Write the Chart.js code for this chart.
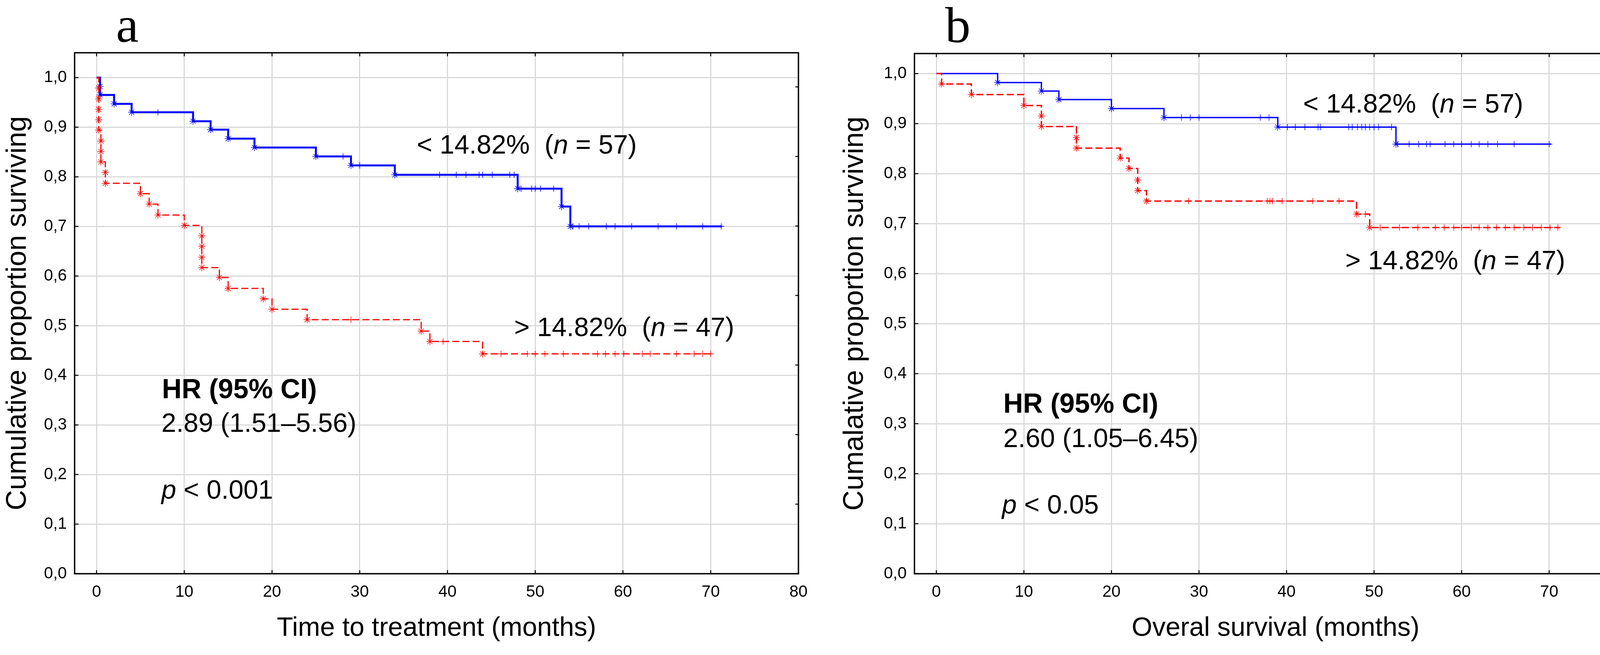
<!DOCTYPE html>
<html>
<head>
<meta charset="utf-8">
<script src="https://cdn.jsdelivr.net/npm/chart.js@4.4.1/dist/chart.umd.min.js"></script>
<style>
  html, body { margin: 0; padding: 0; background: #fff; }
  #wrap { position: relative; width: 4246px; height: 1676px; overflow: hidden; background: #fff; }
  canvas { position: absolute; top: 0; }
</style>
</head>
<body>
<div id="wrap">
  <canvas id="chartA" width="2150" height="1676" style="left:0"></canvas>
  <canvas id="chartB" width="2096" height="1676" style="left:2150px"></canvas>
</div>
<script>
// ---- values ----
const xTicks = [0, 10, 20, 30, 40, 50, 60, 70, 80];
const yTicks = [0, 0.1, 0.2, 0.3, 0.4, 0.5, 0.6, 0.7, 0.8, 0.9, 1.0];

// panel a : time to treatment, < 14.82% (n = 57)
const aLowStepT = [0, 0.4, 2, 4, 11, 13, 15, 18, 25, 29, 34, 48, 53, 54, 71.3];
const aLowStepS = [1.0, 0.965, 0.947, 0.930, 0.912, 0.895, 0.877, 0.859, 0.841, 0.823, 0.804, 0.776, 0.740, 0.700, 0.700];
const aLowEventT = [0.4, 0.4, 2, 4, 11, 13, 15, 18, 25, 29, 34, 48, 53, 54];
const aLowEventS = [0.982, 0.965, 0.947, 0.930, 0.912, 0.895, 0.877, 0.859, 0.841, 0.823, 0.804, 0.776, 0.740, 0.700];
const aLowCensT = [7, 28.1, 30, 39.1, 41, 42.1, 43.6, 44, 45.1, 47.1, 47.6, 48.4, 49.6, 50, 50.6, 52.1, 54.3, 55, 56.1, 58.1, 59.1, 61, 64, 66.1, 69.1, 71.2];

// panel a : > 14.82% (n = 47)
const aHighStepT = [0, 0.25, 0.5, 1.0, 5, 6, 7, 10, 12, 14, 15, 19, 20, 24, 37, 38, 44, 70.2];
const aHighStepS = [1.0, 0.894, 0.830, 0.787, 0.766, 0.745, 0.723, 0.702, 0.617, 0.597, 0.575, 0.554, 0.533, 0.512, 0.489, 0.468, 0.443, 0.443];
const aHighEventT = [0.25, 0.25, 0.25, 0.25, 0.25, 0.5, 0.5, 0.5, 1.0, 1.0, 5, 6, 7, 10, 12, 12, 12, 12, 14, 15, 19, 20, 24, 37, 38, 44];
const aHighEventS = [0.979, 0.957, 0.936, 0.915, 0.894, 0.872, 0.851, 0.830, 0.809, 0.787, 0.766, 0.745, 0.723, 0.702, 0.681, 0.660, 0.638, 0.617, 0.597, 0.575, 0.554, 0.533, 0.512, 0.489, 0.468, 0.443];
const aHighCensT = [29, 39.5, 46.1, 49.1, 50, 51.1, 53.2, 57.1, 58, 59.1, 60.1, 62.2, 63.1, 66.1, 68.1, 69.1, 70];

// panel b : overall survival, < 14.82% (n = 57)
const bLowStepT = [0, 7, 12, 14, 20, 26, 39, 52.5, 70.2];
const bLowStepS = [1.0, 0.982, 0.965, 0.948, 0.930, 0.912, 0.893, 0.859, 0.859];
const bLowEventT = [7, 12, 14, 20, 26, 39, 52.5];
const bLowEventS = [0.982, 0.965, 0.948, 0.930, 0.912, 0.893, 0.859];
const bLowCensT = [28, 29, 30, 37, 38, 40.1, 41, 42.1, 43.6, 43.9, 47.1, 47.5, 48.1, 48.6, 49, 49.5, 50, 50.5, 52, 52.7, 54, 55.1, 56, 56.4, 58.1, 59.1, 60, 61.1, 62, 63, 64.1, 66, 70];

// panel b : > 14.82% (n = 47)
const bHighStepT = [0, 0.6, 4, 10, 12, 16, 21, 22, 23, 24, 48, 49.5, 71.2];
const bHighStepS = [1.0, 0.979, 0.958, 0.936, 0.894, 0.851, 0.831, 0.810, 0.766, 0.745, 0.719, 0.692, 0.692];
const bHighEventT = [0.6, 4, 10, 12, 12, 16, 16, 21, 22, 23, 23, 24, 48, 49.5];
const bHighEventS = [0.979, 0.958, 0.936, 0.915, 0.894, 0.872, 0.851, 0.831, 0.810, 0.787, 0.766, 0.745, 0.719, 0.692];
const bHighCensT = [28.8, 37.8, 38.1, 38.4, 39.5, 43, 46, 49, 50.7, 52.9, 55, 57, 58, 59.1, 60, 61.1, 62, 63, 64, 65, 66, 67.1, 68.1, 69.1, 70.1, 71];

const FONT = "'Liberation Sans', Arial, sans-serif";
const SERIF = "'Liberation Serif', 'Times New Roman', serif";
const BLUE = "#0000ff";
const RED = "#ff0000";

// survival level of a step curve at time t (for placing censor marks on it)
function levelAt(ts, ss, t) {
    let s = ss[0];
    for (let i = 0; i < ts.length; i++) {
        if (ts[i] <= t) s = ss[i];
    }
    return s;
}

function pts(ts, ss) {
    return ts.map((t, i) => ({ x: t, y: ss[i] }));
}

// line + event stars + censor crosses for one group
function groupSets(stepT, stepS, evT, evS, censT, color, width, dash) {
    return [
        {
            data: pts(stepT, stepS),
            borderColor: color, borderWidth: width, borderDash: dash,
            stepped: true, pointRadius: 0, fill: false
        },
        {
            data: pts(evT, evS),
            showLine: false, pointStyle: "star", pointRadius: 9,
            borderColor: color, backgroundColor: color, pointBorderWidth: 1.5
        },
        {
            data: censT.map(t => ({ x: t, y: levelAt(stepT, stepS, t) })),
            showLine: false, pointStyle: "cross", pointRadius: 8,
            borderColor: color, backgroundColor: color, pointBorderWidth: 1.5
        }
    ];
}

// frame around plot + inward tick marks
const framePlugin = {
    id: "frame",
    afterDatasetsDraw(chart, args, o) {
        const { ctx, chartArea: ca, scales } = chart;
        ctx.save();
        ctx.strokeStyle = "#000";
        ctx.lineWidth = 2.5;
        ctx.beginPath();
        xTicks.forEach(v => {
            const px = scales.x.getPixelForValue(v);
            ctx.moveTo(px, ca.bottom); ctx.lineTo(px, ca.bottom - 9);
            ctx.moveTo(px, ca.top); ctx.lineTo(px, ca.top + 9);
        });
        yTicks.forEach(v => {
            const py = scales.y.getPixelForValue(v);
            ctx.moveTo(ca.left, py); ctx.lineTo(ca.left + 10, py);
        });
        o.rightTicks.forEach(v => {
            const py = scales.y2.getPixelForValue(v);
            ctx.moveTo(ca.right, py); ctx.lineTo(ca.right - 8, py);
        });
        ctx.stroke();
        ctx.lineWidth = 3.5;
        ctx.strokeRect(ca.left, ca.top, ca.right - ca.left, ca.bottom - ca.top);
        ctx.restore();
    }
};

// text notes placed in data coordinates
const notesPlugin = {
    id: "notes",
    afterDraw(chart, args, o) {
        const { ctx, scales: { x, y } } = chart;
        ctx.save();
        ctx.fillStyle = "#000";
        ctx.textBaseline = "alphabetic";
        o.items.forEach(item => {
            let px = x.getPixelForValue(item.x);
            const py = y.getPixelForValue(item.y);
            ctx.textAlign = item.align || "left";
            item.parts.forEach(([txt, font]) => {
                ctx.font = font;
                ctx.fillText(txt, px, py);
                px += ctx.measureText(txt).width;
            });
        });
        ctx.restore();
    }
};

const NORM = "68px " + FONT;
const ITAL = "italic 68px " + FONT;
const BOLD = "bold 70px " + FONT;
const LETTER = "130px " + SERIF;

function makePanel(id, p) {
    const grid = { color: "#d9d9d9", lineWidth: 3, drawTicks: false };
    new Chart(document.getElementById(id), {
        type: "line",
        data: {
            datasets: [
                ...groupSets(p.high.stepT, p.high.stepS, p.high.evT, p.high.evS, p.high.censT, RED, p.redWidth, [18, 8]),
                ...groupSets(p.low.stepT, p.low.stepS, p.low.evT, p.low.evS, p.low.censT, BLUE, p.blueWidth, [])
            ]
        },
        options: {
            responsive: false,
            devicePixelRatio: 1,
            animation: false,
            layout: { padding: { left: 0, top: p.top, right: p.right, bottom: 0 } },
            scales: {
                x: {
                    type: "linear", min: -2.5, max: 80, bounds: "data",
                    afterBuildTicks: s => { s.ticks = xTicks.map(v => ({ value: v })); },
                    afterFit: s => { s.height = 208; },
                    grid: grid,
                    border: { display: false },
                    ticks: {
                        autoSkip: false, maxRotation: 0, padding: 22, color: "#000",
                        font: { family: FONT, size: 42 },
                        callback: v => String(v)
                    },
                    title: {
                        display: true, text: p.xTitle, color: "#000",
                        font: { family: FONT, size: 68, lineHeight: 1 },
                        padding: { top: 0, bottom: 34 }
                    }
                },
                y: {
                    type: "linear", min: 0, max: p.yMax, bounds: "data",
                    afterBuildTicks: s => { s.ticks = yTicks.map(v => ({ value: v })); },
                    afterFit: s => { s.width = 191; },
                    grid: grid,
                    border: { display: false },
                    ticks: {
                        autoSkip: false, padding: 20, color: "#000",
                        font: { family: FONT, size: 42 },
                        callback: v => v.toFixed(1).replace(".", ",")
                    },
                    title: {
                        display: true, text: p.yTitle, color: "#000",
                        font: { family: FONT, size: 72, lineHeight: 1 },
                        padding: { top: p.yTitlePad, bottom: 0 }
                    }
                },
                y2: { type: "linear", position: "right", display: false, min: 0, max: p.rightMax }
            },
            plugins: {
                legend: { display: false },
                tooltip: { enabled: false },
                frame: { rightTicks: p.rightTicks },
                notes: { items: p.notes }
            }
        },
        plugins: [framePlugin, notesPlugin]
    });
}

makePanel("chartA", {
    top: 135, right: 106, yMax: 1.05, yTitlePad: 10, redWidth: 3, blueWidth: 5,
    rightMax: 7.49, rightTicks: [0, 1, 2, 3, 4, 5, 6, 7],
    xTitle: "Time to treatment (months)",
    yTitle: "Cumulative proportion surviving",
    low: { stepT: aLowStepT, stepS: aLowStepS, evT: aLowEventT, evS: aLowEventS, censT: aLowCensT },
    high: { stepT: aHighStepT, stepS: aHighStepS, evT: aHighEventT, evS: aHighEventS, censT: aHighCensT },
    notes: [
        { x: 3.5, y: 1.072, align: "center", parts: [["a", LETTER]] },
        { x: 36.5, y: 0.847, parts: [["< 14.82%  (", NORM], ["n", ITAL], [" = 57)", NORM]] },
        { x: 47.6, y: 0.479, parts: [["> 14.82%  (", NORM], ["n", ITAL], [" = 47)", NORM]] },
        { x: 7.45, y: 0.354, parts: [["HR (95% CI)", BOLD]] },
        { x: 7.4, y: 0.286, parts: [["2.89 (1.51\u20135.56)", NORM]] },
        { x: 7.4, y: 0.151, parts: [["p", ITAL], [" < 0.001", NORM]] }
    ]
});

makePanel("chartB", {
    top: 137, right: 56, yMax: 1.04, yTitlePad: 3, redWidth: 3.5, blueWidth: 3.5,
    rightMax: 8.02, rightTicks: [0, 1, 2, 3, 4, 5, 6, 7, 8],
    xTitle: "Overal survival (months)",
    yTitle: "Cumalative proportion surviving",
    low: { stepT: bLowStepT, stepS: bLowStepS, evT: bLowEventT, evS: bLowEventS, censT: bLowCensT },
    high: { stepT: bHighStepT, stepS: bHighStepS, evT: bHighEventT, evS: bHighEventS, censT: bHighCensT },
    notes: [
        { x: 2.45, y: 1.063, align: "center", parts: [["b", LETTER]] },
        { x: 41.9, y: 0.922, parts: [["< 14.82%  (", NORM], ["n", ITAL], [" = 57)", NORM]] },
        { x: 46.7, y: 0.609, parts: [["> 14.82%  (", NORM], ["n", ITAL], [" = 47)", NORM]] },
        { x: 7.65, y: 0.322, parts: [["HR (95% CI)", BOLD]] },
        { x: 7.65, y: 0.253, parts: [["2.60 (1.05\u20136.45)", NORM]] },
        { x: 7.5, y: 0.120, parts: [["p", ITAL], [" < 0.05", NORM]] }
    ]
});
</script>
</body>
</html>
